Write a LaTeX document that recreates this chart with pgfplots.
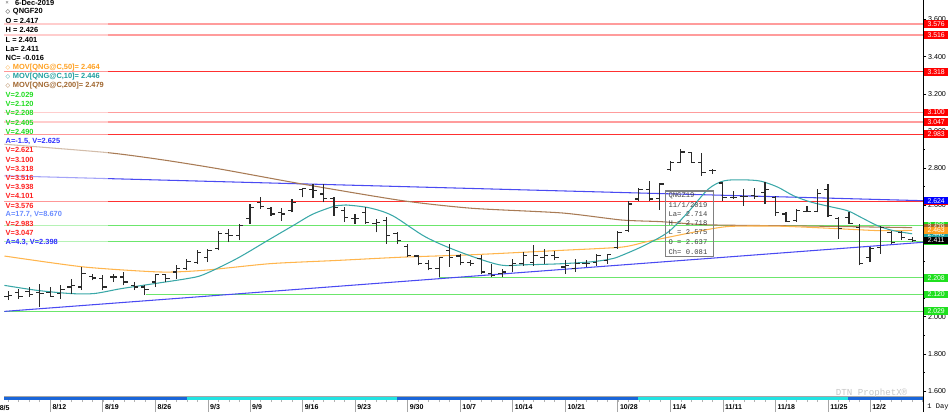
\documentclass[border=0pt]{standalone}
\usepackage{pgfplots}
\usepackage{pgfplotstable}
\pgfplotsset{compat=1.18}
\usepackage{fontspec}
\setmainfont{Liberation Sans}
\setmonofont{Liberation Mono}
\newfontfamily\dejavu{DejaVu Sans}

\definecolor{barc}{HTML}{2A2A2A}
\definecolor{ma50}{HTML}{FFB54D}
\definecolor{ma10}{HTML}{3AA8A8}
\definecolor{ma200}{HTML}{A87B55}
\definecolor{grn}{HTML}{6CE66C}
\definecolor{redl}{HTML}{FF3030}
\definecolor{pinkl}{HTML}{FF9C9C}
\definecolor{bluel}{HTML}{4A4AF2}
\definecolor{tgreen}{HTML}{22DD22}
\definecolor{tred}{HTML}{FF2020}
\definecolor{tblue}{HTML}{3030FF}
\definecolor{tlblue}{HTML}{6A8CFF}
\definecolor{torange}{HTML}{FFA020}
\definecolor{tteal}{HTML}{1E9E9E}
\definecolor{tbrown}{HTML}{A0662E}
\definecolor{stripblue}{HTML}{1A66D9}
\definecolor{stripcyan}{HTML}{22E3E3}
\definecolor{boxgreen}{HTML}{1FE01F}

% daily bars, x = trading day counted from 8/5
\pgfplotstableread{
i O H L C
1 2.106 2.136 2.088 2.115
2 2.129 2.150 2.097 2.106
3 2.133 2.159 2.106 2.118
4 2.129 2.177 2.052 2.124
5 2.129 2.159 2.106 2.106
6 2.124 2.168 2.097 2.147
7 2.159 2.204 2.124 2.168
8 2.159 2.267 2.142 2.231
9 2.218 2.231 2.195 2.208
10 2.204 2.222 2.142 2.159
11 2.213 2.231 2.186 2.213
12 2.213 2.240 2.168 2.186
13 2.168 2.186 2.142 2.159
14 2.159 2.168 2.118 2.147
15 2.186 2.231 2.159 2.226
16 2.226 2.231 2.186 2.204
17 2.240 2.276 2.204 2.258
18 2.258 2.311 2.249 2.297
19 2.293 2.356 2.284 2.347
20 2.320 2.365 2.293 2.356
21 2.365 2.463 2.356 2.445
22 2.445 2.472 2.401 2.436
23 2.436 2.499 2.410 2.490
24 2.526 2.606 2.499 2.588
25 2.615 2.642 2.579 2.594
26 2.583 2.588 2.543 2.552
27 2.561 2.583 2.517 2.552
28 2.570 2.633 2.561 2.615
29 2.683 2.695 2.642 2.690
30 2.683 2.713 2.636 2.677
31 2.660 2.713 2.615 2.636
32 2.636 2.642 2.543 2.588
33 2.570 2.588 2.508 2.535
34 2.526 2.552 2.499 2.529
35 2.561 2.588 2.499 2.508
36 2.499 2.526 2.454 2.508
37 2.517 2.535 2.392 2.436
38 2.445 2.454 2.392 2.410
39 2.379 2.392 2.320 2.329
40 2.326 2.329 2.276 2.284
41 2.284 2.302 2.249 2.258
42 2.258 2.320 2.213 2.320
43 2.356 2.392 2.267 2.320
44 2.326 2.338 2.276 2.293
45 2.293 2.302 2.275 2.284
46 2.311 2.329 2.231 2.240
47 2.231 2.284 2.213 2.222
48 2.231 2.258 2.213 2.240
49 2.275 2.311 2.240 2.284
50 2.284 2.347 2.275 2.329
51 2.293 2.383 2.275 2.329
52 2.320 2.365 2.284 2.329
53 2.329 2.351 2.302 2.320
54 2.267 2.302 2.231 2.275
55 2.258 2.311 2.240 2.284
56 2.284 2.302 2.267 2.284
57 2.293 2.338 2.275 2.329
58 2.302 2.338 2.284 2.333
59 2.374 2.463 2.365 2.454
60 2.463 2.624 2.454 2.606
61 2.633 2.695 2.624 2.686
62 2.686 2.731 2.624 2.633
63 2.637 2.718 2.575 2.714
64 2.794 2.838 2.785 2.829
65 2.829 2.904 2.829 2.886
66 2.883 2.886 2.826 2.829
67 2.829 2.883 2.758 2.776
68 2.785 2.797 2.767 2.788
69 2.719 2.719 2.624 2.642
70 2.642 2.677 2.633 2.642
71 2.647 2.686 2.597 2.647
72 2.651 2.695 2.633 2.647
73 2.668 2.726 2.606 2.686
74 2.642 2.651 2.543 2.561
75 2.552 2.565 2.508 2.511
76 2.517 2.579 2.511 2.570
77 2.567 2.594 2.561 2.567
78 2.565 2.686 2.561 2.665
79 2.686 2.713 2.535 2.543
80 2.526 2.535 2.418 2.472
81 2.535 2.561 2.499 2.499
82 2.481 2.499 2.276 2.284
83 2.320 2.374 2.293 2.365
84 2.374 2.490 2.338 2.481
85 2.454 2.463 2.392 2.401
86 2.454 2.463 2.410 2.427
87 2.417 2.426 2.401 2.411
}\ohlc

\newcommand\lgfont{\fontsize{5.6}{6}\selectfont\bfseries}
\newcommand\dia{{\dejavu\fontsize{4.5}{5}\selectfont ◇}}
\newcommand\lrow[3]{\node[anchor=west,inner sep=0pt,text=#2,font=\lgfont] at (1,{411.3-9.27*#1}) {#3};}
% price flag on the right scale: y in picture units from the price
\newcommand\flag[2]{\node[anchor=west, minimum width=18pt, minimum height=5.6pt, inner sep=0pt,
  text=white, fill=#1, font=\fontsize{5.2}{5.2}\selectfont] at (923.8,{390-(3.576-#2)*186.6}) {#2};}

\begin{document}
\begin{tikzpicture}[x=0.75pt,y=0.75pt]
\begin{axis}[
  scale only axis, width=692.25pt, height=298.5pt,
  xmin=0.644, xmax=88.05, ymin=1.5717, ymax=3.7046,
  axis line style={draw=none},
  xtick pos=bottom, ytick pos=right, yticklabel pos=right,
  clip=false,
  xtick={5,10,15,20,24,29,34,39,44,49,54,59,64,69,74,79,83},
  xticklabels={8/12,8/19,8/26,9/3,9/9,9/16,9/23,9/30,10/7,10/14,10/21,10/28,11/4,11/11,11/18,11/25,12/2},
  xtick style={draw=none},
  xticklabel shift=5.8pt,
  xticklabel style={anchor=west, inner sep=0pt, xshift=1.5pt, font=\fontsize{5.3}{6}\selectfont\bfseries},
  ytick={1.6,1.8,...,3.61},
  minor y tick num=1,
  tick align=outside, major tick length=2.5pt, minor tick length=1.2pt,
  ytick style={black},
  yticklabel style={font=\fontsize{5.4}{6}\selectfont, inner sep=1pt,
    /pgf/number format/.cd, fixed, fixed zerofill, precision=3, assume math mode=true},
  scaled y ticks=false,
]
\coordinate (O) at (rel axis cs:0,0);
% horizontal levels
\addplot[pinkl, line width=1.1pt] coordinates {(0.644,3.576) (88.05,3.576)};
\addplot[pinkl, line width=1.1pt] coordinates {(0.644,3.516) (88.05,3.516)};
\addplot[redl, line width=0.75pt] coordinates {(0.644,3.318) (88.05,3.318)};
\addplot[pinkl, line width=1.1pt] coordinates {(0.644,3.100) (88.05,3.100)};
\addplot[pinkl, line width=1.1pt] coordinates {(0.644,3.047) (88.05,3.047)};
\addplot[redl, line width=0.75pt] coordinates {(0.644,2.983) (88.05,2.983)};
\addplot[redl, line width=0.75pt] coordinates {(0.644,2.621) (88.05,2.621)};
\addplot[grn, line width=0.8pt] coordinates {(0.644,2.490) (88.05,2.490)};
\addplot[grn, line width=0.8pt] coordinates {(0.644,2.405) (88.05,2.405)};
\addplot[grn, line width=0.8pt] coordinates {(42.03,2.208) (88.05,2.208)};
\addplot[grn, line width=0.8pt] coordinates {(14.09,2.120) (88.05,2.120)};
\addplot[grn, line width=0.8pt] coordinates {(0.644,2.029) (88.05,2.029)};
% trend lines
\addplot[bluel, line width=0.8pt] coordinates {(0.644,2.758) (88.05,2.624)};
\addplot[bluel, line width=0.8pt] coordinates {(0.644,2.028) (88.05,2.400)};
% moving averages
\addplot[ma200, line width=0.8pt, smooth, tension=0.4] coordinates {
(0.644,2.928) (10.40,2.883) (15.80,2.843) (21.19,2.794) (29.05,2.713) (38.52,2.624)
(45.15,2.583) (53.67,2.558) (59.36,2.520) (63.14,2.511) (67.60,2.494) (76.40,2.488) (87.00,2.479)};
\addplot[ma50, line width=0.8pt, smooth, tension=0.4] coordinates {
(0.644,2.326) (8.22,2.267) (15.48,2.240) (19.58,2.249) (25.93,2.285) (32.18,2.302)
(38.52,2.320) (45.15,2.333) (53.39,2.356) (59.36,2.374) (61.91,2.405) (66.27,2.455)
(69.49,2.485) (74.22,2.487) (78.96,2.476) (83.69,2.463) (87.00,2.464)};
\addplot[ma10, line width=0.8pt, smooth, tension=0.5] coordinates {
(0.644,2.168) (3.77,2.141) (6.96,2.124) (9.17,2.124) (11.70,2.150) (14.85,2.177)
(17.97,2.204) (19.58,2.226) (22.71,2.311) (25.93,2.418) (28.11,2.490) (30.00,2.552)
(32.18,2.597) (33.12,2.601) (35.40,2.585) (37.58,2.543) (40.70,2.429) (43.92,2.349)
(47.71,2.279) (50.17,2.279) (53.39,2.284) (56.51,2.295) (58.41,2.311) (59.36,2.329)
(61.53,2.383) (63.81,2.456) (65.70,2.563) (67.60,2.686) (69.11,2.731) (71.00,2.736)
(72.61,2.729) (74.22,2.697) (75.74,2.650) (77.35,2.617) (78.96,2.595) (80.85,2.570)
(82.08,2.536) (83.69,2.490) (85.20,2.463) (87.00,2.446)};
% OHLC bars: high-low line, open tick left, close tick right
\addplot[draw=none, mark=none, error bars/.cd, y dir=plus, y explicit, error mark=none,
  error bar style={draw=barc, line width=0.85pt}]
  table[x=i, y=L, y error expr=\thisrow{H}-\thisrow{L}] {\ohlc};
\addplot[draw=none, mark=none, error bars/.cd, x dir=minus, x fixed=0.36, error mark=none,
  error bar style={draw=barc, line width=0.85pt}]
  table[x=i, y=O] {\ohlc};
\addplot[draw=none, mark=none, error bars/.cd, x dir=plus, x fixed=0.36, error mark=none,
  error bar style={draw=barc, line width=0.85pt}]
  table[x=i, y=C] {\ohlc};
\end{axis}

% everything else in picture pixels, origin 16 px below the plot box
\begin{scope}[shift={(O)}, yshift=-12pt]
\useasboundingbox (0,0) rectangle (950,414);
% axis lines
\draw[gray!70, line width=0.5pt] (0,16) -- (923,16);
\draw[black, line width=0.6pt] (923,0) -- (923,414);

% value flags on the price scale
\flag{red}{3.576}
\flag{red}{3.516}
\flag{red}{3.318}
\flag{red}{3.100}
\flag{red}{3.047}
\flag{red}{2.983}
\flag{red}{2.621}
\flag{blue}{2.624}
\flag{boxgreen}{2.490}
\flag{tbrown}{2.479}
\flag{tteal}{2.446}
\flag{torange}{2.463}
\flag{boxgreen}{2.405}
\flag{black}{2.411}
\flag{boxgreen}{2.208}
\flag{boxgreen}{2.120}
\flag{boxgreen}{2.029}

% contract strip and day ticks
\fill[stripblue] (0,12.5) rectangle (923,15.6);
\fill[stripcyan] (183,12.5) rectangle (394,15.6);
\fill[stripcyan] (637,12.5) rectangle (848,15.6);
\foreach \i in {1,...,88} \draw[gray!60, line width=0.4pt] ({-6.8+10.56*\i},10) -- ++(0,2.5);
\foreach \i in {0,5,10,15,20,24,29,34,39,44,49,54,59,64,69,74,79,83}
  \draw[gray!70, line width=0.5pt] ({-6.8+10.56*\i},0) -- ++(0,12.5);
\node[anchor=west, inner sep=0pt, font=\fontsize{5.3}{6}\selectfont\bfseries] at (-5,4.5) {8/5};
\node[anchor=west, inner sep=0pt, font=\ttfamily\fontsize{5.3}{6}\selectfont] at (927,5) {1 Day};
\node[anchor=west, inner sep=0pt, text=gray!45, font=\ttfamily\fontsize{6.9}{7}\selectfont] at (835,19) {DTN ProphetX®};

% info panel
\fill[white, opacity=0.5] (0,164) rectangle (104,414);
\node[anchor=west,inner sep=0pt,text=gray,font=\lgfont] at (1,411.3) {\fontsize{4}{4}\selectfont ×};
\lrow{0}{black}{\hspace{7pt}6-Dec-2019}
\lrow{1}{black}{\dia\hspace{2pt}QNGF20}
\lrow{2}{black}{O = 2.417}
\lrow{3}{black}{H = 2.426}
\lrow{4}{black}{L = 2.401}
\lrow{5}{black}{La= 2.411}
\lrow{6}{black}{NC= -0.016}
\lrow{7}{torange}{\dia\hspace{2pt}MOV[QNG@C,50]= 2.464}
\lrow{8}{tteal}{\dia\hspace{2pt}MOV[QNG@C,10]= 2.446}
\lrow{9}{tbrown}{\dia\hspace{2pt}MOV[QNG@C,200]= 2.479}
\lrow{10}{tgreen}{V=2.029}
\lrow{11}{tgreen}{V=2.120}
\lrow{12}{tgreen}{V=2.208}
\lrow{13}{tgreen}{V=2.405}
\lrow{14}{tgreen}{V=2.490}
\lrow{15}{tblue}{A=-1.5, V=2.625}
\lrow{16}{tred}{V=2.621}
\lrow{17}{tred}{V=3.100}
\lrow{18}{tred}{V=3.318}
\lrow{19}{tred}{V=3.516}
\lrow{20}{tred}{V=3.938}
\lrow{21}{tred}{V=4.101}
\lrow{22}{tred}{V=3.576}
\lrow{23}{tlblue}{A=17.7, V=8.670}
\lrow{24}{tred}{V=2.983}
\lrow{25}{tred}{V=3.047}
\lrow{26}{tblue}{A=4.3, V=2.398}

% data window
\draw[gray, line width=0.9pt] (664,156) rectangle (712,222);
\begin{scope}[every node/.style={anchor=west, inner sep=0pt, text=black!75, font=\ttfamily\fontsize{5.4}{6}\selectfont}]
\node at (667,217.3) {QNGZ19};
\node at (667,208.0) {11/1/2019};
\node at (667,198.7) {La= 2.714};
\node at (667,189.7) {H = 2.718};
\node at (667,180.3) {L = 2.575};
\node at (667,171.0) {O = 2.637};
\node at (667,161.3) {Ch= 0.081};
\end{scope}
\end{scope}
\end{tikzpicture}
\end{document}
